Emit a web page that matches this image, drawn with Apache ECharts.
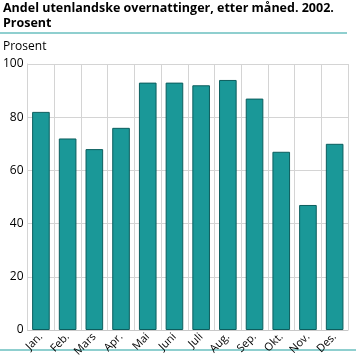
<!DOCTYPE html>
<html>
<head>
<meta charset="utf-8">
<script src="https://cdn.jsdelivr.net/npm/echarts@6/dist/echarts.min.js"></script>
<style>html,body{margin:0;padding:0;background:#fff}#c{width:356px;height:362px}</style>
</head>
<body>
<div id="c"></div>
<script>
var categories = ['Jan.', 'Feb.', 'Mars', 'Apr.', 'Mai', 'Juni', 'Juli', 'Aug.', 'Sep.', 'Okt.', 'Nov.', 'Des.'];
var values = [82, 72, 68, 76, 93, 93, 92, 94, 87, 67, 47, 70];
var yTicks = [0, 20, 40, 60, 80, 100];

var chart = echarts.init(document.getElementById('c'), null, {renderer: 'canvas'});
chart.setOption({
  animation: false,
  backgroundColor: '#fff',
  title: {
    text: 'Andel utenlandske overnattinger, etter måned. 2002.\nProsent',
    left: 3, top: 1, padding: 0,
    textStyle: {fontFamily: 'Open Sans', fontWeight: 'bold', fontSize: 12.5, color: '#000', lineHeight: 15}
  },
  graphic: [
    {type: 'rect', shape: {x: 0, y: 32, width: 347, height: 2}, style: {fill: '#8fcfcf'}},
    {type: 'rect', shape: {x: 0, y: 349, width: 356, height: 2}, style: {fill: '#8fcfcf'}},
    {type: 'text', left: 3, top: 41, style: {text: 'Prosent', fontFamily: 'Open Sans', fontSize: 12, fill: '#000'}}
  ],
  grid: {left: 27, right: 8, top: 64, bottom: 32},
  xAxis: {
    type: 'category',
    data: categories,
    axisLine: {show: true, lineStyle: {color: '#c8c8c8', width: 1}},
    axisTick: {show: false},
    splitLine: {show: true, interval: 0, lineStyle: {color: '#d4d4d4', width: 1}},
    axisLabel: {interval: 0, rotate: 45, fontFamily: 'Open Sans', fontSize: 11, color: '#000', margin: 5}
  },
  yAxis: {
    type: 'value',
    min: 0, max: 100, interval: 20,
    axisLine: {show: true, lineStyle: {color: '#d4d4d4'}},
    axisTick: {show: false},
    splitLine: {show: true, lineStyle: {color: '#d4d4d4', width: 1}},
    axisLabel: {
      fontFamily: 'Open Sans', fontSize: 12, color: '#000', margin: 4,
      formatter: function (v) { return yTicks.indexOf(v) >= 0 ? String(v) : ''; }
    }
  },
  series: [{
    type: 'bar',
    data: values,
    barWidth: '66%',
    itemStyle: {color: '#1a9898', borderColor: '#0c5e5e', borderWidth: 1}
  }]
});
</script>
</body>
</html>
